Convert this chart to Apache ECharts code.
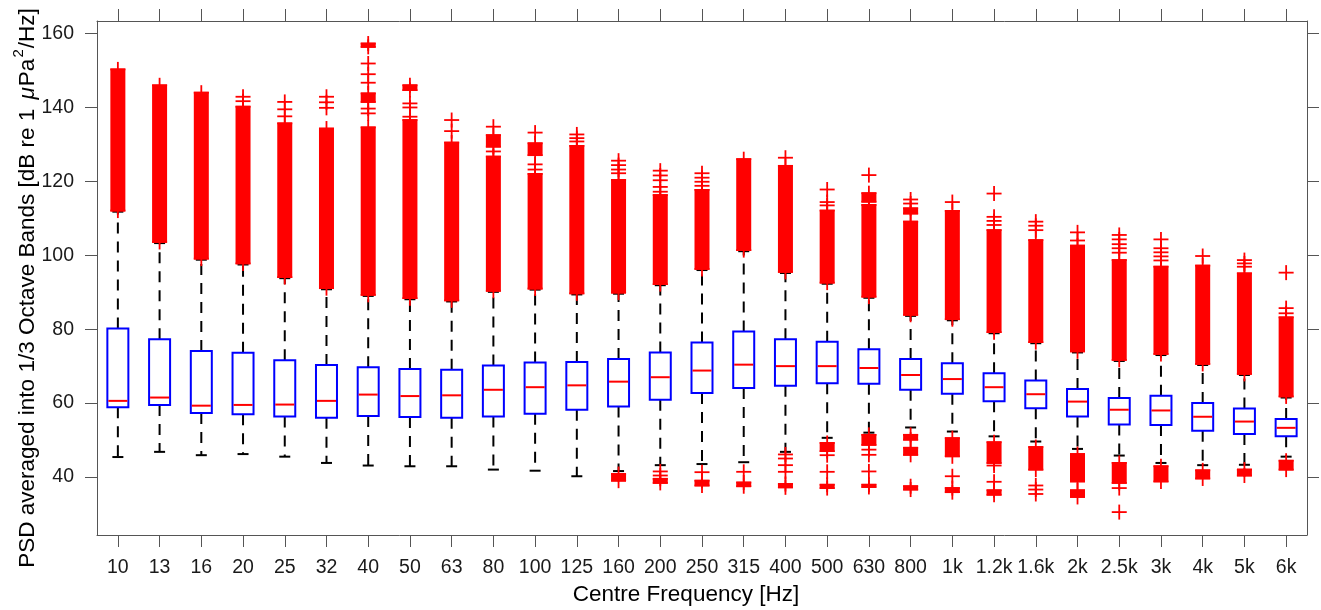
<!DOCTYPE html>
<html>
<head>
<meta charset="utf-8">
<title>PSD 1/3 octave band boxplot</title>
<script src="https://cdn.jsdelivr.net/npm/echarts@6/dist/echarts.min.js"></script>
<style>
  html, body { margin: 0; padding: 0; background: #fff; }
  #chart { width: 1321px; height: 610px; }
</style>
</head>
<body>
<div id="chart"></div>
<script>
// Centre frequencies of the 1/3 octave bands
const categories = ['10','13','16','20','25','32','40','50','63','80','100','125','160','200','250','315','400','500','630','800','1k','1.2k','1.6k','2k','2.5k','3k','4k','5k','6k'];

// Box statistics per band, dB re 1 µPa²/Hz
const whiskerLow  = [45.4,46.8,45.9,46.2,45.5,43.8,43.1,42.9,42.9,42.0,41.7,40.2,41.6,43.2,43.5,44.0,46.8,50.6,52.0,53.4,52.3,51.0,49.6,47.6,45.8,43.8,43.2,43.3,45.5];
const q1          = [58.9,59.5,57.3,57.0,56.4,56.0,56.5,56.2,56.0,56.4,57.1,58.2,59.1,60.9,62.7,64.1,64.7,65.4,65.2,63.6,62.5,60.5,58.6,56.4,54.2,54.1,52.5,51.6,51.0];
const median      = [60.6,61.5,59.3,59.5,59.6,60.6,62.3,61.9,62.1,63.6,64.3,64.8,65.8,67.0,68.8,70.4,70.0,70.0,69.5,67.6,66.5,64.3,62.4,60.4,58.2,58.0,56.3,55.0,53.3];
const q3          = [80.2,77.3,74.1,73.6,71.6,70.3,69.7,69.2,69.0,70.2,71.0,71.1,71.9,73.7,76.4,79.4,77.3,76.6,74.6,71.9,70.8,68.1,66.1,63.8,61.4,62.0,60.0,58.5,55.7];
const whiskerHigh = [111.8,103.3,98.8,97.5,93.8,90.8,89.0,88.1,87.5,90.1,90.7,89.4,89.6,91.9,96.0,101.1,95.2,92.3,88.5,83.6,82.4,78.9,76.2,73.7,71.4,73.0,70.3,67.6,61.5];

// Runs of closely packed outliers: [band index, lowest value, highest value]
const outlierRuns = [
  [0,112.1,150.3],[1,103.6,146.0],[2,99.1,144.0],[3,97.8,140.2],[4,94.1,135.7],
  [5,91.1,134.3],[6,89.3,134.6],[6,141.5,143.8],[6,156.4,157.3],[7,88.4,136.6],
  [7,144.7,146.0],[8,87.8,130.5],[9,90.4,126.7],[9,129.4,132.5],[10,91.0,122.0],
  [10,127.1,130.3],[11,89.7,129.6],[12,89.9,120.4],[12,39.0,40.8],[13,92.2,116.3],
  [13,38.4,39.5],[14,96.3,117.7],[14,37.7,39.0],[15,101.4,126.0],[15,37.5,38.5],
  [16,95.5,124.2],[16,37.2,38.1],[17,92.6,112.1],[17,47.0,49.2],[17,37.0,37.9],
  [18,88.8,113.6],[18,114.5,116.8],[18,48.7,51.4],[18,37.3,37.9],[19,83.9,109.1],
  [19,111.3,112.7],[19,50.1,51.4],[19,46.0,47.9],[19,36.6,37.5],[20,82.7,112.0],
  [20,45.6,50.5],[20,35.9,37.0],[21,79.2,106.8],[21,43.8,49.4],[21,35.2,36.4],
  [22,76.5,104.1],[22,42.0,48.1],[23,74.0,102.6],[23,38.8,46.2],[23,34.6,36.4],
  [24,71.7,98.7],[24,38.4,43.8],[25,73.3,96.9],[25,38.8,42.9],[26,70.6,97.2],
  [26,39.6,41.8],[27,67.9,95.1],[27,40.4,42.0],[28,61.8,83.2],[28,42.0,44.4]
];

// Isolated outliers: [band index, value]
const outlierPoints = [
  [3,142.9],[3,141.7],[4,141.5],[4,139.5],[4,137.6],[5,142.9],[5,141.4],[5,139.9],
  [6,151.9],[6,149.0],[6,146.7],[6,139.7],[6,138.4],[7,141.1],[7,140.0],[7,137.5],
  [8,136.6],[8,133.6],[9,134.8],[9,128.1],[10,133.2],[10,124.6],[10,123.2],
  [11,132.7],[11,131.7],[11,130.8],[12,125.6],[12,124.4],[12,123.2],[12,122.2],
  [13,122.9],[13,121.6],[13,120.3],[13,118.5],[13,117.2],[13,41.5],[13,40.4],
  [14,122.2],[14,121.0],[14,119.9],[14,118.8],[14,41.3],[15,41.4],
  [16,126.4],[16,46.1],[16,45.0],[16,43.2],[16,41.4],
  [17,117.8],[17,114.4],[17,113.5],[17,45.9],[17,41.4],
  [18,121.7],[18,47.4],[18,46.0],[18,41.5],[19,115.1],[19,114.0],[20,114.4],[20,40.2],
  [21,116.7],[21,110.4],[21,109.3],[21,108.2],[21,43.1],[21,38.7],
  [22,109.1],[22,108.0],[22,106.8],[22,37.7],[22,36.6],[22,35.4],
  [23,106.2],[23,104.0],[24,105.5],[24,104.3],[24,103.0],[24,101.9],[24,100.7],[24,37.0],[24,30.5],
  [25,104.3],[25,101.9],[25,100.8],[25,99.7],[25,98.6],[26,99.8],
  [27,98.7],[27,97.8],[27,96.9],[28,95.3],[28,85.7],[28,84.3]
];

// Y-axis tick values
const yTicks = [40, 60, 80, 100, 120, 140, 160];

const FONT = '"Liberation Sans", Arial, Helvetica, sans-serif';
const AXIS_COLOR = '#555';
const RED = '#ff0000';
const BLUE = '#0000ff';
const BOX_HALF = 10.5;
const CAP_HALF = 5.5;
const PLUS_HALF = 7.5;
const ARM = 1.8;

const boxData = categories.map((c, i) => [i, whiskerLow[i], q1[i], median[i], q3[i], whiskerHigh[i]]);

function plusShapes(cx, cy) {
  return [
    { type: 'rect', shape: { x: cx - PLUS_HALF, y: cy - ARM / 2, width: PLUS_HALF * 2, height: ARM }, style: { fill: RED } },
    { type: 'rect', shape: { x: cx - ARM / 2, y: cy - PLUS_HALF, width: ARM, height: PLUS_HALF * 2 }, style: { fill: RED } }
  ];
}

function renderBox(params, api) {
  const i = api.value(0);
  const lo = api.coord([i, api.value(1)]);
  const b = api.coord([i, api.value(2)]);
  const m = api.coord([i, api.value(3)]);
  const t = api.coord([i, api.value(4)]);
  const hi = api.coord([i, api.value(5)]);
  const cx = lo[0];
  const dashed = { stroke: '#000', lineWidth: 2, lineDash: [11, 8], fill: null };
  const solid = { stroke: '#000', lineWidth: 2, fill: null };
  return {
    type: 'group',
    children: [
      { type: 'line', shape: { x1: cx, y1: t[1], x2: cx, y2: hi[1] }, style: dashed },
      { type: 'line', shape: { x1: cx, y1: b[1], x2: cx, y2: lo[1] }, style: dashed },
      { type: 'line', shape: { x1: cx - CAP_HALF, y1: hi[1], x2: cx + CAP_HALF, y2: hi[1] }, style: solid },
      { type: 'line', shape: { x1: cx - CAP_HALF, y1: lo[1], x2: cx + CAP_HALF, y2: lo[1] }, style: solid },
      { type: 'rect', shape: { x: cx - BOX_HALF, y: t[1], width: BOX_HALF * 2, height: b[1] - t[1] },
        style: { stroke: BLUE, lineWidth: 2, fill: null } },
      { type: 'line', shape: { x1: cx - BOX_HALF + 1, y1: m[1], x2: cx + BOX_HALF - 1, y2: m[1] },
        style: { stroke: RED, lineWidth: 2 } }
    ]
  };
}

function renderRun(params, api) {
  const i = api.value(0);
  const lo = api.coord([i, api.value(1)]);
  const hi = api.coord([i, api.value(2)]);
  const cx = lo[0];
  const children = [
    { type: 'rect', shape: { x: cx - PLUS_HALF, y: hi[1] - ARM / 2, width: PLUS_HALF * 2, height: lo[1] - hi[1] + ARM },
      style: { fill: RED } }
  ].concat(plusShapes(cx, hi[1]), plusShapes(cx, lo[1]));
  return { type: 'group', children };
}

function renderPoint(params, api) {
  const p = api.coord([api.value(0), api.value(1)]);
  return { type: 'group', children: plusShapes(p[0], p[1]) };
}

const chart = echarts.init(document.getElementById('chart'), null, { renderer: 'canvas' });

const yCommon = {
  type: 'value',
  min: 24.3,
  max: 163.4,
  splitLine: { show: false },
  axisLine: { show: true, lineStyle: { color: AXIS_COLOR, width: 1 } },
  axisTick: { show: true, inside: false, length: 12, customValues: yTicks, lineStyle: { color: AXIS_COLOR, width: 1 } }
};

chart.setOption({
  animation: false,
  backgroundColor: '#fff',
  grid: { left: 97, right: 14, top: 21, bottom: 75, containLabel: false },
  xAxis: [
    {
      type: 'category',
      position: 'bottom',
      data: categories,
      boundaryGap: true,
      axisLine: { show: true, lineStyle: { color: AXIS_COLOR, width: 1 } },
      axisTick: { show: true, alignWithLabel: true, inside: false, length: 12, lineStyle: { color: AXIS_COLOR, width: 1 } },
      axisLabel: { interval: 0, margin: 23, fontSize: 19.5, fontFamily: FONT, color: '#1a1a1a' },
      splitLine: { show: false }
    },
    {
      type: 'category',
      position: 'top',
      data: categories,
      boundaryGap: true,
      axisLine: { show: true, lineStyle: { color: AXIS_COLOR, width: 1 } },
      axisTick: { show: true, alignWithLabel: true, inside: false, length: 12, lineStyle: { color: AXIS_COLOR, width: 1 } },
      axisLabel: { show: false },
      splitLine: { show: false }
    }
  ],
  yAxis: [
    Object.assign({}, yCommon, {
      position: 'left',
      axisLabel: { show: true, customValues: yTicks, margin: 23, fontSize: 19.5, fontFamily: FONT, color: '#1a1a1a' }
    }),
    Object.assign({}, yCommon, {
      position: 'right',
      axisLabel: { show: false }
    })
  ],
  graphic: [
    {
      type: 'text',
      x: 25,
      y: 288,
      rotation: Math.PI / 2,
      style: {
        text: '{t|PSD averaged into 1/3 Octave Bands [dB re 1 }{mu|\u03bc}{t|Pa}{sup|2}{t|/Hz]}',
        align: 'center',
        verticalAlign: 'middle',
        fill: '#000',
        rich: {
          t: { fontSize: 22.5, fontFamily: FONT, fill: '#000', lineHeight: 28, verticalAlign: 'bottom' },
          mu: { fontSize: 22.5, fontFamily: FONT, fontStyle: 'italic', fill: '#000', lineHeight: 28, verticalAlign: 'bottom', padding: [0, 1, 0, 3] },
          sup: { fontSize: 15, fontFamily: FONT, fill: '#000', lineHeight: 15, verticalAlign: 'top', padding: [0, 1, 0, 1] }
        }
      }
    },
    {
      type: 'text',
      x: 686,
      y: 595,
      style: {
        text: 'Centre Frequency [Hz]',
        align: 'center',
        verticalAlign: 'middle',
        fontSize: 22.5,
        fontFamily: FONT,
        fill: '#000'
      }
    }
  ],
  series: [
    {
      name: 'box',
      type: 'custom',
      xAxisIndex: 0,
      yAxisIndex: 0,
      renderItem: renderBox,
      encode: { x: 0, y: [1, 2, 3, 4, 5] },
      data: boxData,
      z: 2,
      silent: true
    },
    {
      name: 'outlier runs',
      type: 'custom',
      xAxisIndex: 0,
      yAxisIndex: 0,
      renderItem: renderRun,
      encode: { x: 0, y: [1, 2] },
      data: outlierRuns,
      z: 3,
      silent: true
    },
    {
      name: 'outliers',
      type: 'custom',
      xAxisIndex: 0,
      yAxisIndex: 0,
      renderItem: renderPoint,
      encode: { x: 0, y: 1 },
      data: outlierPoints,
      z: 3,
      silent: true
    }
  ]
});
</script>
</body>
</html>
